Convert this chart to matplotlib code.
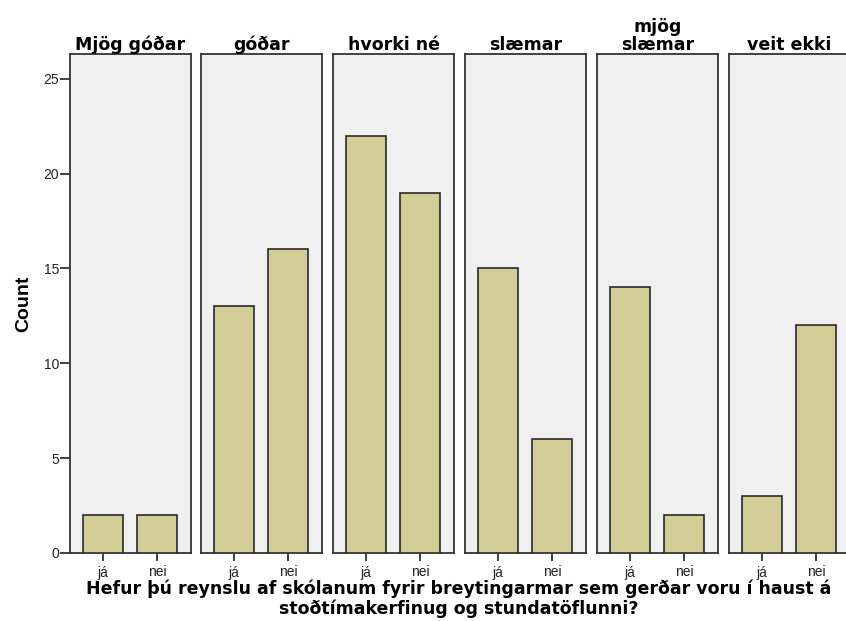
import matplotlib
matplotlib.use("Agg")
import matplotlib.pyplot as plt

panels = ["Mjög góðar", "góðar", "hvorki né", "slæmar", "mjög\nslæmar", "veit ekki"]
answers = ["já", "nei"]
ja_counts = [2, 13, 22, 15, 14, 3]
nei_counts = [2, 16, 19, 6, 2, 12]
yticks = [0, 5, 10, 15, 20, 25]
xlabel = "Hefur þú reynslu af skólanum fyrir breytingarmar sem gerðar voru í haust á\nstoðtímakerfinug og stundatöflunni?"

W, H = 846, 621
fig = plt.figure(figsize=(W / 100, H / 100), dpi=100)
fig.patch.set_facecolor("white")

bar_color = "#d3ce97"
edge_color = "#2a2a2a"
panel_bg = "#f0f0f0"

lefts = [70, 201, 333, 465, 597, 729]
pw = 121
bottom_px, top_px = 553, 54

axes = []
for i, name in enumerate(panels):
    ax = fig.add_axes([lefts[i] / W, 1 - bottom_px / H, pw / W, (bottom_px - top_px) / H])
    ax.set_facecolor(panel_bg)
    vals = [ja_counts[i], nei_counts[i]]
    ax.bar(range(len(answers)), vals, width=0.75, color=bar_color,
           edgecolor=edge_color, linewidth=1.2, zorder=3)
    ax.set_xlim(-0.61, 1.63)
    ax.set_ylim(0, 26.3)
    ax.set_xticks(range(len(answers)))
    ax.set_xticklabels(answers, fontsize=10, family="Liberation Sans", color="#222222")
    ax.tick_params(axis="x", length=6, width=1.3, color="#333333", pad=3)
    for s in ax.spines.values():
        s.set_color("#333333")
        s.set_linewidth(1.3)
    ax.set_title(name, fontsize=12.5, fontweight="bold", family="DejaVu Sans",
                 pad=2, linespacing=1.0)
    if i == 0:
        ax.set_yticks(yticks)
        ax.set_yticklabels([str(t) for t in yticks], fontsize=10,
                           family="Liberation Sans", color="#222222")
        ax.tick_params(axis="y", length=7, width=1.3, color="#333333", pad=1)
        ax.set_ylabel("Count", fontsize=14, fontweight="bold",
                      family="Liberation Sans", labelpad=8)
    else:
        ax.set_yticks([])
    axes.append(ax)

fig.text(459 / W, 1 - 580 / H, xlabel, ha="center", va="top", fontsize=12.5,
         fontweight="bold", family="DejaVu Sans", linespacing=1.05,
         multialignment="center")

fig.savefig("out.png", dpi=100, facecolor="white")
